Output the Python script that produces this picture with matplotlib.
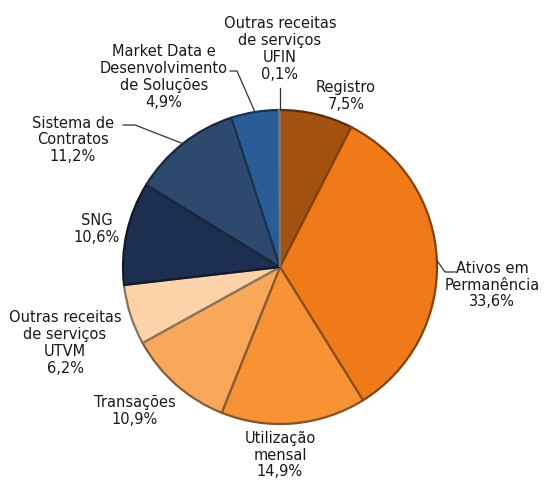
import numpy as np
import matplotlib.pyplot as plt
from matplotlib.colors import to_rgb

# revenue share by line of business (%), clockwise from 12 o'clock
labels = [
    "Registro",
    "Ativos em\nPermanência",
    "Utilização\nmensal",
    "Transações",
    "Outras receitas\nde serviços\nUTVM",
    "SNG",
    "Sistema de\nContratos",
    "Market Data e\nDesenvolvimento\nde Soluções",
    "Outras receitas\nde serviços\nUFIN",
]
values = [7.5, 33.6, 14.9, 10.9, 6.2, 10.6, 11.2, 4.9, 0.1]
colors = ["#A3520F", "#F07A18", "#F79335", "#F9A859", "#FCD3A8",
          "#1D2F50", "#2D4A6E", "#2B5C97", "#D9D9D9"]

W, H = 544, 484
CX, CY, R = 280, H - 267, 157

# label centres in pixel coords (top-left origin), leader elbows where needed
label_px = [(346, 96), (492, 285), (280, 455), (135, 411), (65, 343),
            (97, 229), (73, 140), (164, 77), (280, 49)]
leaders = {
    1: [(456, 272), (445, 272)],
    6: [(123, 125), (135, 125)],
    7: [(230, 71), (237, 71)],
    8: [(280, 88)],
}


def darker(c, f=0.6):
    r, g, b = to_rgb(c)
    return (r * f, g * f, b * f)


fig = plt.figure(figsize=(W / 100, H / 100), dpi=100)
ax = fig.add_axes([0, 0, 1, 1])

wedges, _ = ax.pie(values, colors=colors, startangle=90, counterclock=False,
                   center=(CX, CY), radius=R, frame=True)
# darker rim on every slice to hint at the bevel
for w, c in zip(wedges, colors):
    w.set_edgecolor(darker(c, 0.55))
    w.set_linewidth(1.6)
ax.set_xlim(0, W)
ax.set_ylim(0, H)
ax.set_aspect("equal")
ax.axis("off")

for i, (lab, v) in enumerate(zip(labels, values)):
    x, y = label_px[i]
    pct = f"{v:.1f}%".replace(".", ",")
    ax.text(x, H - y, f"{lab}\n{pct}", ha="center", va="center",
            fontsize=10.5, color="#1a1a1a", linespacing=1.15)
    if i in leaders:
        w = wedges[i]
        mid = np.deg2rad((w.theta1 + w.theta2) / 2)
        ex, ey = CX + R * np.cos(mid), CY + R * np.sin(mid)
        if i == 8:
            ex, ey = CX, CY + R
        pts = [(ex, ey)] + [(px, H - py) for px, py in reversed(leaders[i])]
        xs, ys = zip(*pts)
        ax.plot(xs, ys, color="#333333", lw=0.9)

fig.savefig("out.png", dpi=100)
